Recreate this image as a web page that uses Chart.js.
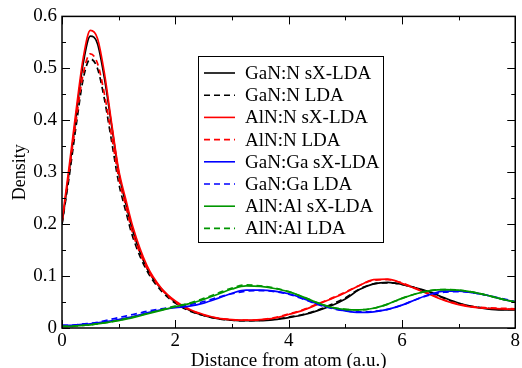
<!DOCTYPE html>
<html>
<head>
<meta charset="utf-8">
<script src="https://cdn.jsdelivr.net/npm/chart.js@4"></script>
<style>
  html, body { margin: 0; padding: 0; background: #fff; }
  #wrap { width: 522px; height: 368px; }
</style>
</head>
<body>
<div id="wrap"><canvas id="densityChart"></canvas></div>
<script>
// Abstand vom Atom (a.u.)
const xValues = [0, 0.125, 0.25, 0.375, 0.5, 0.625, 0.75, 0.875, 1.0, 1.125, 1.25, 1.5, 1.75, 2.0,
  2.25, 2.5, 2.75, 3.0, 3.25, 3.5, 3.75, 4.0, 4.25, 4.5, 4.75, 5.0, 5.25, 5.5, 5.75, 6.0,
  6.25, 6.5, 6.75, 7.0, 7.25, 7.5, 7.75, 8.0];

const ganNsx = [0.200, 0.300, 0.410, 0.510, 0.562, 0.548, 0.480, 0.390, 0.300, 0.240, 0.187, 0.115, 0.076, 0.050,
  0.034, 0.024, 0.018, 0.015, 0.014, 0.014, 0.016, 0.020, 0.025, 0.033, 0.043, 0.056, 0.074, 0.085, 0.088, 0.084,
  0.077, 0.069, 0.058, 0.048, 0.041, 0.037, 0.035, 0.035];
const ganNlda = [0.200, 0.290, 0.390, 0.480, 0.518, 0.500, 0.440, 0.360, 0.280, 0.225, 0.175, 0.110, 0.072, 0.048,
  0.033, 0.024, 0.018, 0.015, 0.014, 0.015, 0.017, 0.021, 0.026, 0.034, 0.045, 0.058, 0.075, 0.085, 0.087, 0.084,
  0.077, 0.068, 0.057, 0.047, 0.041, 0.038, 0.036, 0.036];
const alnNsx = [0.205, 0.310, 0.420, 0.520, 0.573, 0.558, 0.490, 0.395, 0.305, 0.248, 0.195, 0.120, 0.077, 0.052,
  0.036, 0.026, 0.019, 0.016, 0.015, 0.016, 0.019, 0.026, 0.034, 0.045, 0.056, 0.068, 0.082, 0.093, 0.094, 0.086,
  0.075, 0.064, 0.053, 0.045, 0.040, 0.038, 0.037, 0.036];
const alnNlda = [0.205, 0.300, 0.400, 0.490, 0.528, 0.510, 0.450, 0.370, 0.290, 0.235, 0.182, 0.115, 0.075, 0.050,
  0.035, 0.025, 0.019, 0.016, 0.015, 0.016, 0.020, 0.027, 0.035, 0.046, 0.057, 0.069, 0.082, 0.092, 0.093, 0.087,
  0.076, 0.065, 0.054, 0.046, 0.041, 0.039, 0.038, 0.037];
const ganGasx = [0.005, 0.005, 0.006, 0.007, 0.008, 0.010, 0.012, 0.014, 0.016, 0.019, 0.022, 0.029, 0.035, 0.039,
  0.042, 0.048, 0.057, 0.067, 0.073, 0.073, 0.071, 0.066, 0.057, 0.047, 0.039, 0.033, 0.030, 0.031, 0.036, 0.044,
  0.055, 0.065, 0.071, 0.071, 0.068, 0.063, 0.056, 0.050];
const ganGalda = [0.005, 0.005, 0.006, 0.008, 0.009, 0.011, 0.014, 0.017, 0.020, 0.023, 0.026, 0.032, 0.037, 0.041,
  0.045, 0.051, 0.059, 0.066, 0.071, 0.072, 0.070, 0.065, 0.056, 0.046, 0.038, 0.033, 0.031, 0.032, 0.036, 0.044,
  0.055, 0.064, 0.069, 0.070, 0.068, 0.063, 0.057, 0.051];
const alnAlsx = [0.003, 0.003, 0.004, 0.005, 0.006, 0.008, 0.010, 0.012, 0.014, 0.017, 0.020, 0.027, 0.034, 0.041,
  0.047, 0.055, 0.065, 0.075, 0.081, 0.080, 0.076, 0.070, 0.060, 0.049, 0.040, 0.036, 0.035, 0.038, 0.046, 0.057,
  0.066, 0.072, 0.074, 0.073, 0.069, 0.063, 0.056, 0.050];
const alnAllda = [0.003, 0.003, 0.004, 0.005, 0.006, 0.008, 0.010, 0.012, 0.015, 0.018, 0.021, 0.028, 0.035, 0.042,
  0.048, 0.057, 0.067, 0.077, 0.083, 0.081, 0.077, 0.070, 0.060, 0.049, 0.040, 0.036, 0.035, 0.038, 0.046, 0.057,
  0.066, 0.072, 0.074, 0.073, 0.069, 0.063, 0.056, 0.050];

const seriesNames = ['GaN:N sX-LDA', 'GaN:N LDA', 'AlN:N sX-LDA', 'AlN:N LDA',
  'GaN:Ga sX-LDA', 'GaN:Ga LDA', 'AlN:Al sX-LDA', 'AlN:Al LDA'];
const seriesValues = [ganNsx, ganNlda, alnNsx, alnNlda, ganGasx, ganGalda, alnAlsx, alnAllda];
const seriesColors = ['#000000', '#000000', '#ff0000', '#ff0000', '#0000ff', '#0000ff', '#009600', '#009600'];

const xTicks = [0, 2, 4, 6, 8];
const xTickLabels = ['0', '2', '4', '6', '8'];
const yTicks = [0, 0.1, 0.2, 0.3, 0.4, 0.5, 0.6];
const yTickLabels = ['0', '0.1', '0.2', '0.3', '0.4', '0.5', '0.6'];

const serif = '"Liberation Serif", "DejaVu Serif", serif';

// Rahmen, Tickmarken nach innen und Legende im Diagramm
const framePlugin = {
    id: 'frame',
    afterDatasetsDraw(chart) {
        const { ctx, chartArea: a, scales } = chart;
        const xs = scales.x, ys = scales.y;
        ctx.save();
        ctx.strokeStyle = '#000';
        ctx.lineWidth = 1.5;
        ctx.strokeRect(a.left, a.top, a.right - a.left, a.bottom - a.top);
        ctx.lineWidth = 1;
        ctx.beginPath();
        for (let v = 0; v <= 8; v += 1) {
            const px = Math.round(xs.getPixelForValue(v)) + 0.5;
            const len = v % 2 === 0 ? 8 : 4;
            ctx.moveTo(px, a.bottom); ctx.lineTo(px, a.bottom - len);
            ctx.moveTo(px, a.top); ctx.lineTo(px, a.top + len);
        }
        for (let i = 0; i <= 12; i++) {
            const py = Math.round(ys.getPixelForValue(i * 0.05)) + 0.5;
            const len = i % 2 === 0 ? 8 : 4;
            ctx.moveTo(a.left, py); ctx.lineTo(a.left + len, py);
            ctx.moveTo(a.right, py); ctx.lineTo(a.right - len, py);
        }
        ctx.stroke();

        // Legende
        const bx = 198.5, by = 56.5, bw = 185, bh = 186;
        ctx.fillStyle = '#fff';
        ctx.fillRect(bx, by, bw, bh);
        ctx.lineWidth = 1;
        ctx.strokeStyle = '#000';
        ctx.strokeRect(bx, by, bw, bh);
        ctx.font = '19px ' + serif;
        ctx.textBaseline = 'middle';
        chart.data.datasets.forEach((ds, i) => {
            const y = 73 + i * 22.2;
            ctx.strokeStyle = ds.borderColor;
            ctx.lineWidth = 1.6;
            ctx.setLineDash(ds.borderDash || []);
            ctx.beginPath();
            ctx.moveTo(204, y); ctx.lineTo(235, y);
            ctx.stroke();
            ctx.setLineDash([]);
            ctx.fillStyle = '#000';
            ctx.fillText(ds.label, 245, y + 1);
        });
        ctx.restore();
    }
};

const datasets = seriesNames.map((name, i) => ({
    label: name,
    data: xValues.map((x, j) => ({ x: x, y: seriesValues[i][j] })),
    borderColor: seriesColors[i],
    borderWidth: 1.7,
    borderDash: i % 2 === 1 ? [6, 4] : [],
    pointRadius: 0,
    cubicInterpolationMode: 'monotone',
    fill: false,
    order: 8 - i
}));

new Chart(document.getElementById('densityChart'), {
    type: 'line',
    data: { datasets: datasets },
    plugins: [framePlugin],
    options: {
        responsive: true,
        maintainAspectRatio: false,
        animation: false,
        layout: { padding: { top: 11, right: 6, left: 0, bottom: 0 } },
        plugins: { legend: { display: false }, tooltip: { enabled: false } },
        scales: {
            x: {
                type: 'linear', min: 0, max: 8,
                grid: { display: false, drawTicks: false },
                border: { display: false },
                afterBuildTicks: s => { s.ticks = xTicks.map(v => ({ value: v })); },
                afterFit: s => { s.height = 40; },
                ticks: {
                    padding: 2, color: '#000',
                    font: { family: serif, size: 19 },
                    callback: v => xTickLabels[xTicks.indexOf(v)]
                },
                title: {
                    display: true, text: 'Distance from atom (a.u.)', color: '#000',
                    font: { family: serif, size: 19 }, padding: { top: 0, bottom: -4 }
                }
            },
            y: {
                type: 'linear', min: 0, max: 0.6,
                grid: { display: false, drawTicks: false },
                border: { display: false },
                afterBuildTicks: s => { s.ticks = yTicks.map(v => ({ value: v })); },
                afterFit: s => { s.width = 62; },
                ticks: {
                    padding: 5, color: '#000',
                    font: { family: serif, size: 19 },
                    callback: (v, idx) => yTickLabels[idx]
                },
                title: {
                    display: true, text: 'Density', color: '#000',
                    font: { family: serif, size: 18 }, padding: { top: 9, bottom: 0 }
                }
            }
        }
    }
});
</script>
</body>
</html>
